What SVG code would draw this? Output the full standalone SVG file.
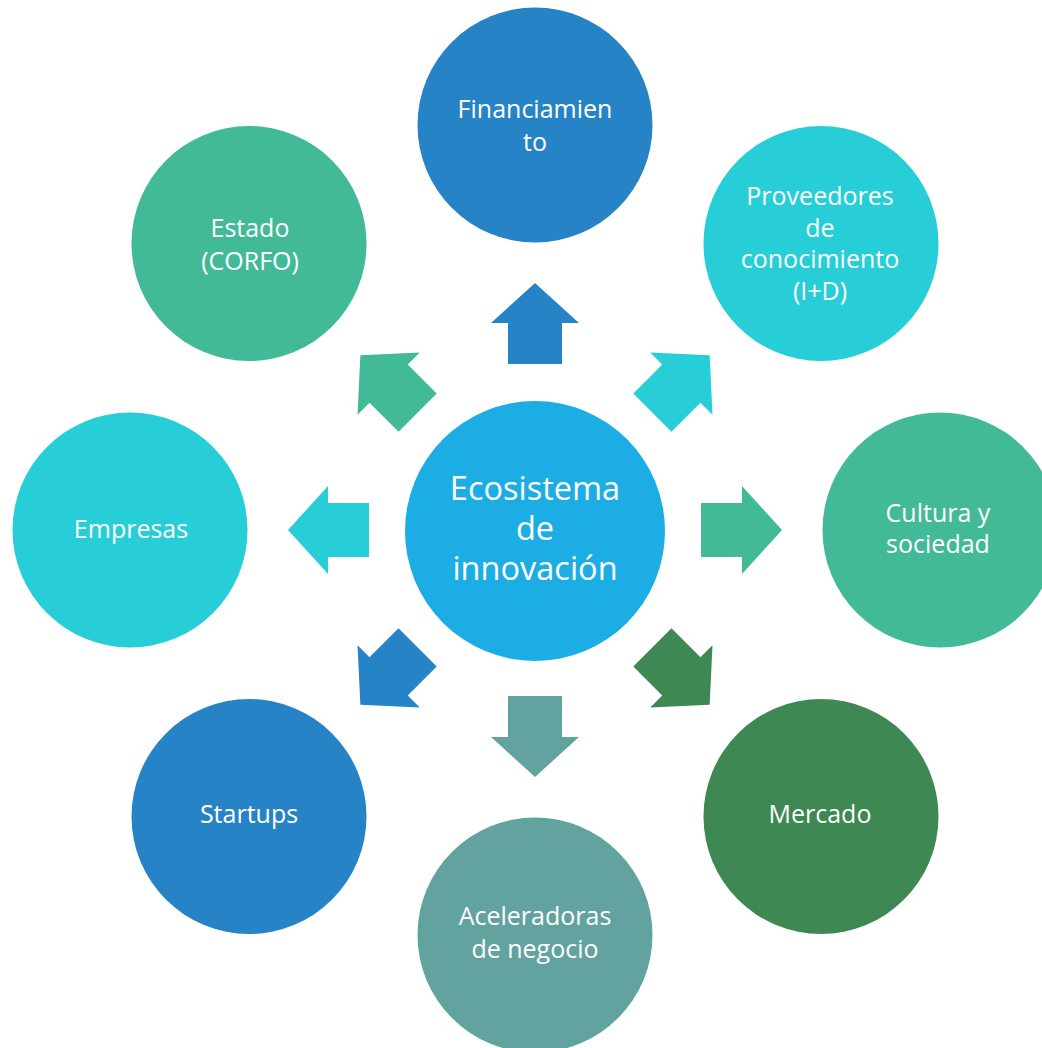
<svg xmlns="http://www.w3.org/2000/svg" width="1042" height="1048" viewBox="0 0 1042 1048">
<style>
text{font-family:"Open Sans","Noto Sans","DejaVu Sans",sans-serif;fill:#FFFFFF;text-anchor:middle;font-size:25px}
.big{font-size:32.5px}
.c1{fill:#2683C6}.c2{fill:#27CED7}.c3{fill:#42BA97}.c4{fill:#3E8853}.c5{fill:#62A39F}.c0{fill:#1CADE4}
</style>
<defs>
<path id="arr" d="M -27,-166 L 27,-166 L 27,-207 L 44,-207 L 0,-247 L -44,-207 L -27,-207 Z"/>
</defs>
<rect width="1042" height="1048" fill="#FFFFFF"/>
<g id="connectors" transform="translate(535,530)">
<use href="#arr" class="c1"/>
<use href="#arr" class="c2" transform="rotate(45)"/>
<use href="#arr" class="c3" transform="rotate(90)"/>
<use href="#arr" class="c4" transform="rotate(135)"/>
<use href="#arr" class="c5" transform="rotate(180)"/>
<use href="#arr" class="c1" transform="rotate(225)"/>
<use href="#arr" class="c2" transform="rotate(270)"/>
<use href="#arr" class="c3" transform="rotate(315)"/>
</g>
<g id="center">
<circle cx="535" cy="531" r="130" class="c0"/>
<text class="big" x="535" y="500">Ecosistema</text>
<text class="big" x="535" y="540">de</text>
<text class="big" x="535" y="580">innovación</text>
</g>
<g id="financiamiento">
<circle cx="535" cy="125" r="117.5" class="c1"/>
<text x="535" y="118">Financiamien</text>
<text x="535" y="151">to</text>
</g>
<g id="proveedores">
<circle cx="821" cy="243.5" r="117.5" class="c2"/>
<text x="820" y="205">Proveedores</text>
<text x="820" y="237">de</text>
<text x="820" y="268">conocimiento</text>
<text x="820" y="300">(I+D)</text>
</g>
<g id="cultura">
<circle cx="940" cy="530" r="117.5" class="c3"/>
<text x="938" y="522">Cultura y</text>
<text x="938" y="553">sociedad</text>
</g>
<g id="mercado">
<circle cx="821" cy="816.5" r="117.5" class="c4"/>
<text x="820" y="823">Mercado</text>
</g>
<g id="aceleradoras">
<circle cx="535" cy="935" r="117.5" class="c5"/>
<text x="535" y="925">Aceleradoras</text>
<text x="535" y="958">de negocio</text>
</g>
<g id="startups">
<circle cx="249" cy="816.5" r="117.5" class="c1"/>
<text x="249" y="823">Startups</text>
</g>
<g id="empresas">
<circle cx="130" cy="530" r="117.5" class="c2"/>
<text x="131" y="538">Empresas</text>
</g>
<g id="estado">
<circle cx="249" cy="243.5" r="117.5" class="c3"/>
<text x="250" y="237">Estado</text>
<text x="250" y="270">(CORFO)</text>
</g>
</svg>
